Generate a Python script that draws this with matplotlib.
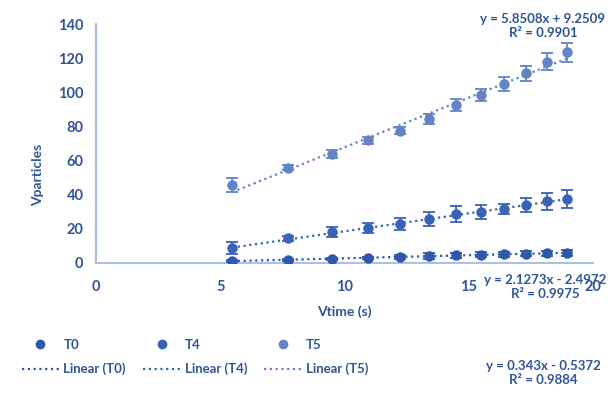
import matplotlib
matplotlib.use("Agg")
import matplotlib.pyplot as plt
import numpy as np

plt.rcParams['font.family'] = ['Lato', 'DejaVu Sans']

x_sqrt_time = [5.48, 7.75, 9.49, 10.95, 12.25, 13.42, 14.49, 15.49, 16.43, 17.32, 18.17, 18.97]
t0 = [1.2, 1.8, 2.4, 3.0, 3.6, 4.1, 4.6, 4.8, 5.2, 5.4, 5.6, 5.9]
t4 = [8.6, 14.5, 18.0, 20.3, 22.7, 25.6, 28.7, 29.7, 31.5, 34.0, 36.3, 37.5]
t5 = [45.7, 55.8, 63.8, 72.0, 77.5, 84.4, 92.4, 98.4, 104.9, 111.1, 117.8, 123.4]
t0_err = [0.6, 0.6, 0.6, 0.6, 1.0, 1.5, 1.5, 1.5, 1.5, 1.5, 1.5, 2.0]
t4_err = [3.5, 1.5, 3.0, 3.0, 3.5, 4.0, 4.5, 4.0, 3.0, 4.0, 5.0, 5.0]
t5_err = [4.0, 1.5, 2.5, 2.0, 2.0, 3.0, 3.5, 3.5, 4.0, 4.5, 5.0, 5.5]

series_names = ['T0', 'T4', 'T5']
colors = ['#2E58AE', '#3A62B5', '#6283C6']
equations = ['y = 0.343x - 0.5372\nR² = 0.9884',
             'y = 2.1273x - 2.4972\nR² = 0.9975',
             'y = 5.8508x + 9.2509\nR² = 0.9901']
text_color = '#2F5597'

fig = plt.figure(figsize=(6.15, 3.94), dpi=100)
ax = fig.add_axes([0.156, 0.3325, 0.808, 0.6065])

x = np.array(x_sqrt_time)
handles = []
for name, ys, err, c in zip(series_names, [t0, t4, t5], [t0_err, t4_err, t5_err], colors):
    ax.errorbar(x, ys, yerr=err, fmt='o', color=c, ms=6.5, capsize=4, elinewidth=1.3,
                capthick=1.3, zorder=3)
    k, b = np.polyfit(x, ys, 1)
    xx = np.array([x[0], x[-1]])
    ax.plot(xx, k * xx + b, linestyle=(0, (1, 1.6)), color=c, lw=1.6, zorder=2)
    h1 = plt.Line2D([], [], marker='o', ls='none', color=c, ms=6, label=name)
    h2 = plt.Line2D([], [], ls=(0, (1, 1.6)), color=c, lw=1.6, label=f'Linear ({name})')
    handles += [h1, h2]

ax.set_xlim(0, 20)
ax.set_ylim(0, 140)
ax.set_xticks([0, 5, 10, 15, 20])
ax.set_yticks(range(0, 141, 20))
for s in ['top', 'right']:
    ax.spines[s].set_visible(False)
for s in ['left', 'bottom']:
    ax.spines[s].set_color('#AEBFE0')
    ax.spines[s].set_linewidth(1.5)
ax.tick_params(length=0, labelsize=10.5, labelcolor=text_color)
ax.tick_params(axis='x', pad=12)
ax.tick_params(axis='y', pad=9)
for lab in ax.get_xticklabels() + ax.get_yticklabels():
    lab.set_fontweight('bold')

fig.text(344 / 615, 1 - 312 / 394, 'Vtime (s)', ha='center', va='center',
         fontsize=10, fontweight='bold', color=text_color)
fig.text(38 / 615, 1 - 175 / 394, 'Vparticles', ha='center', va='center', rotation=90,
         fontsize=10, fontweight='bold', color=text_color)

# equation labels
eq_pos = [(543, 373), (545, 287), (543, 26)]
for (px, py), eq in zip(eq_pos, equations):
    fig.text(px / 615, 1 - py / 394, eq, ha='center', va='center', fontsize=9.5,
             fontweight='bold', color=text_color, linespacing=1.25, zorder=5)

leg = fig.legend(handles=handles, ncol=3, loc='center left',
                 bbox_to_anchor=(10 / 615, 1 - 357 / 394), frameon=False,
                 fontsize=9.5, handlelength=2.8, handletextpad=0.35,
                 columnspacing=1.3, labelspacing=0.9)
for t in leg.get_texts():
    t.set_color(text_color)
    t.set_fontweight('bold')

fig.savefig('out.png', dpi=100)
